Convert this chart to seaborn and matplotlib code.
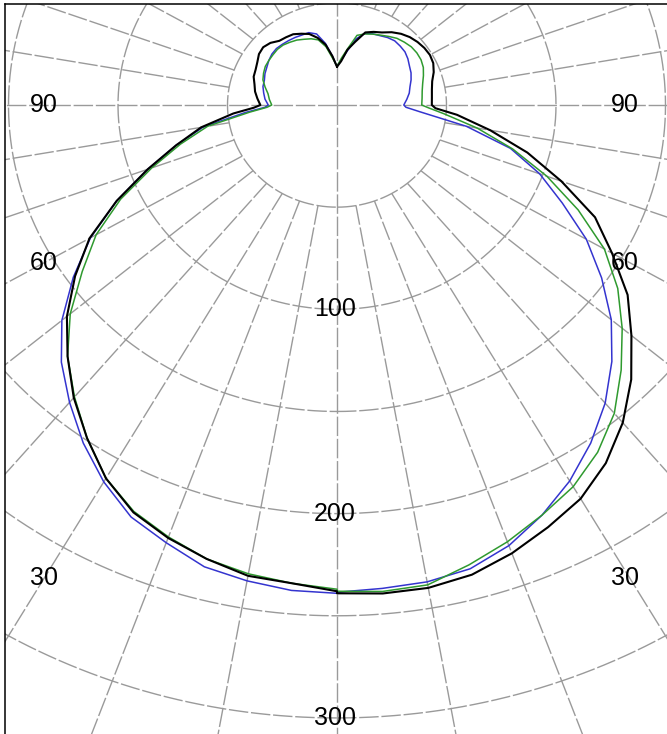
import numpy as np
import pandas as pd
import matplotlib
matplotlib.use("Agg")
import matplotlib.pyplot as plt
import seaborn as sns

# Gamma angles (degrees from nadir), same for both half-planes
angles = [0, 5, 10, 15, 20, 25, 30, 35, 40, 45, 50, 55, 60, 65, 70, 75, 80, 85, 88,
          90, 95, 100, 105, 110, 115, 120, 125, 130, 135, 140, 145, 150, 155, 160,
          165, 170, 175, 180]

# Intensities, left half-plane (C180) and right half-plane (C0)
black_left = [238, 235, 234, 230, 225.5, 220, 211, 199, 187, 174, 161, 146, 130.5, 111, 92, 76,
              63, 47.5, 38, 35, 36.5, 38, 39, 40.5, 41, 42, 43.5, 44, 43, 41, 40.5, 40, 38.5,
              37, 34, 30, 24, 18.7]
black_right = [239, 240, 240, 238, 233.5, 228, 222.5, 214, 203, 190, 175.5, 162, 145, 130, 109,
               90, 71, 55, 45, 43.3, 43.5, 44, 45, 47, 48.5, 49, 48.7, 48, 47, 45.5, 43.5, 41,
               39.5, 37.8, 32, 27.5, 21.5, 18.7]
green_left = [237, 235, 233, 230, 225, 219.5, 211, 199, 186.5, 174, 159, 142, 127, 109, 90, 74,
              60, 40, 32, 29.8, 31, 32, 34, 36, 37, 37.8, 38, 38.2, 38.5, 38.3, 37.5, 36.7,
              35.5, 34.5, 33, 29, 23, 19]
green_right = [238, 239, 238.5, 233, 227.5, 221.5, 215.7, 207.5, 197, 183.5, 170, 156.5, 141,
               121.5, 102, 83, 65, 49, 42, 38.7, 39, 39.5, 40.5, 42, 43.5, 44.3, 44.5, 44.3,
               43.5, 42.6, 41, 39.5, 38.3, 37, 35.3, 28, 23, 19]
blue_left = [239, 238.5, 236.5, 234, 228, 222.5, 213, 202, 190, 178, 164, 147, 130, 111, 92, 76,
             62, 42, 33, 31.4, 33, 34, 35, 35.3, 36.3, 37, 38, 38.8, 39.1, 38.8, 38.5, 38.2,
             37.8, 37.7, 36, 30.7, 24, 18.8]
blue_right = [238.5, 237.5, 237, 235, 229.5, 221.5, 212.5, 202, 190.5, 177.5, 163.5, 147.5,
              131.5, 113.5, 98.5, 82, 60, 38, 31.5, 30.5, 32, 33.5, 34.5, 36, 37.3, 38.2, 39.5,
              40.5, 40.8, 41, 40.3, 39.2, 38.5, 37.3, 33.5, 26.8, 22, 19]

series_names = ["blue", "green", "black"]
series_colors = {"blue": "#3434cf", "green": "#2f9a2f", "black": "#000000"}

circle_values = [50, 100, 150, 200, 250, 300]
circle_labels = ["100", "200", "300"]
angle_label_values = [90, 60, 30]

frames = []
for name, left, right in [("blue", blue_left, blue_right),
                          ("green", green_left, green_right),
                          ("black", black_left, black_right)]:
    th = [-a for a in reversed(angles)] + list(angles)
    rr = list(reversed(left)) + list(right)
    th = np.radians(th)
    rr = np.array(rr, dtype=float)
    frames.append(pd.DataFrame({"x": rr * np.sin(th), "y": -rr * np.cos(th),
                                "series": name, "order": np.arange(len(rr))}))
df = pd.concat(frames, ignore_index=True)

sns.set_style("white")
plt.rcParams["font.family"] = ["Liberation Sans", "DejaVu Sans"]

fig = plt.figure(figsize=(6.67, 7.34), dpi=100)
ax = fig.add_axes([5 / 667, -6 / 734, 664 / 667, 736 / 734])
ax.set_xlim(-151.6, 151.6)
ax.set_ylim(-310.8, 49.44)

grid_kw = dict(color="#9a9a9a", lw=1.0, ls=(0, (14, 2)), zorder=1)
t = np.linspace(0, 2 * np.pi, 721)
for r in circle_values:
    ax.plot(r * np.sin(t), -r * np.cos(t), **grid_kw)
for a in range(0, 360, 10):
    ar = np.radians(a)
    r0 = 0 if a % 90 == 0 else 50
    ax.plot([r0 * np.sin(ar), 500 * np.sin(ar)], [-r0 * np.cos(ar), -500 * np.cos(ar)], **grid_kw)

for name in series_names:
    sub = df[df.series == name]
    sns.lineplot(data=sub, x="x", y="y", sort=False, estimator=None, color=series_colors[name],
                 lw=1.5 if name == "black" else 1.1, ax=ax, zorder=3, legend=False)

fs = 18
for lab in circle_labels:
    v = float(lab)
    ax.text(-1.0, -v, lab, ha="center", va="center", fontsize=fs, color="black", zorder=4)

xl = 133.8
for a in angle_label_values:
    yv = 0.0 if a == 90 else -xl / np.tan(np.radians(a))
    ax.text(-xl, yv, str(a), ha="center", va="center", fontsize=fs, color="black", zorder=4)
    ax.text(xl - 2.5, yv, str(a), ha="center", va="center", fontsize=fs, color="black", zorder=4)

ax.set_xlabel("")
ax.set_ylabel("")
ax.set_xticks([])
ax.set_yticks([])
for s in ["right", "bottom"]:
    ax.spines[s].set_visible(False)
for s in ["left", "top"]:
    ax.spines[s].set_color("black")
    ax.spines[s].set_linewidth(1.1)

fig.savefig("out.png", dpi=100)
